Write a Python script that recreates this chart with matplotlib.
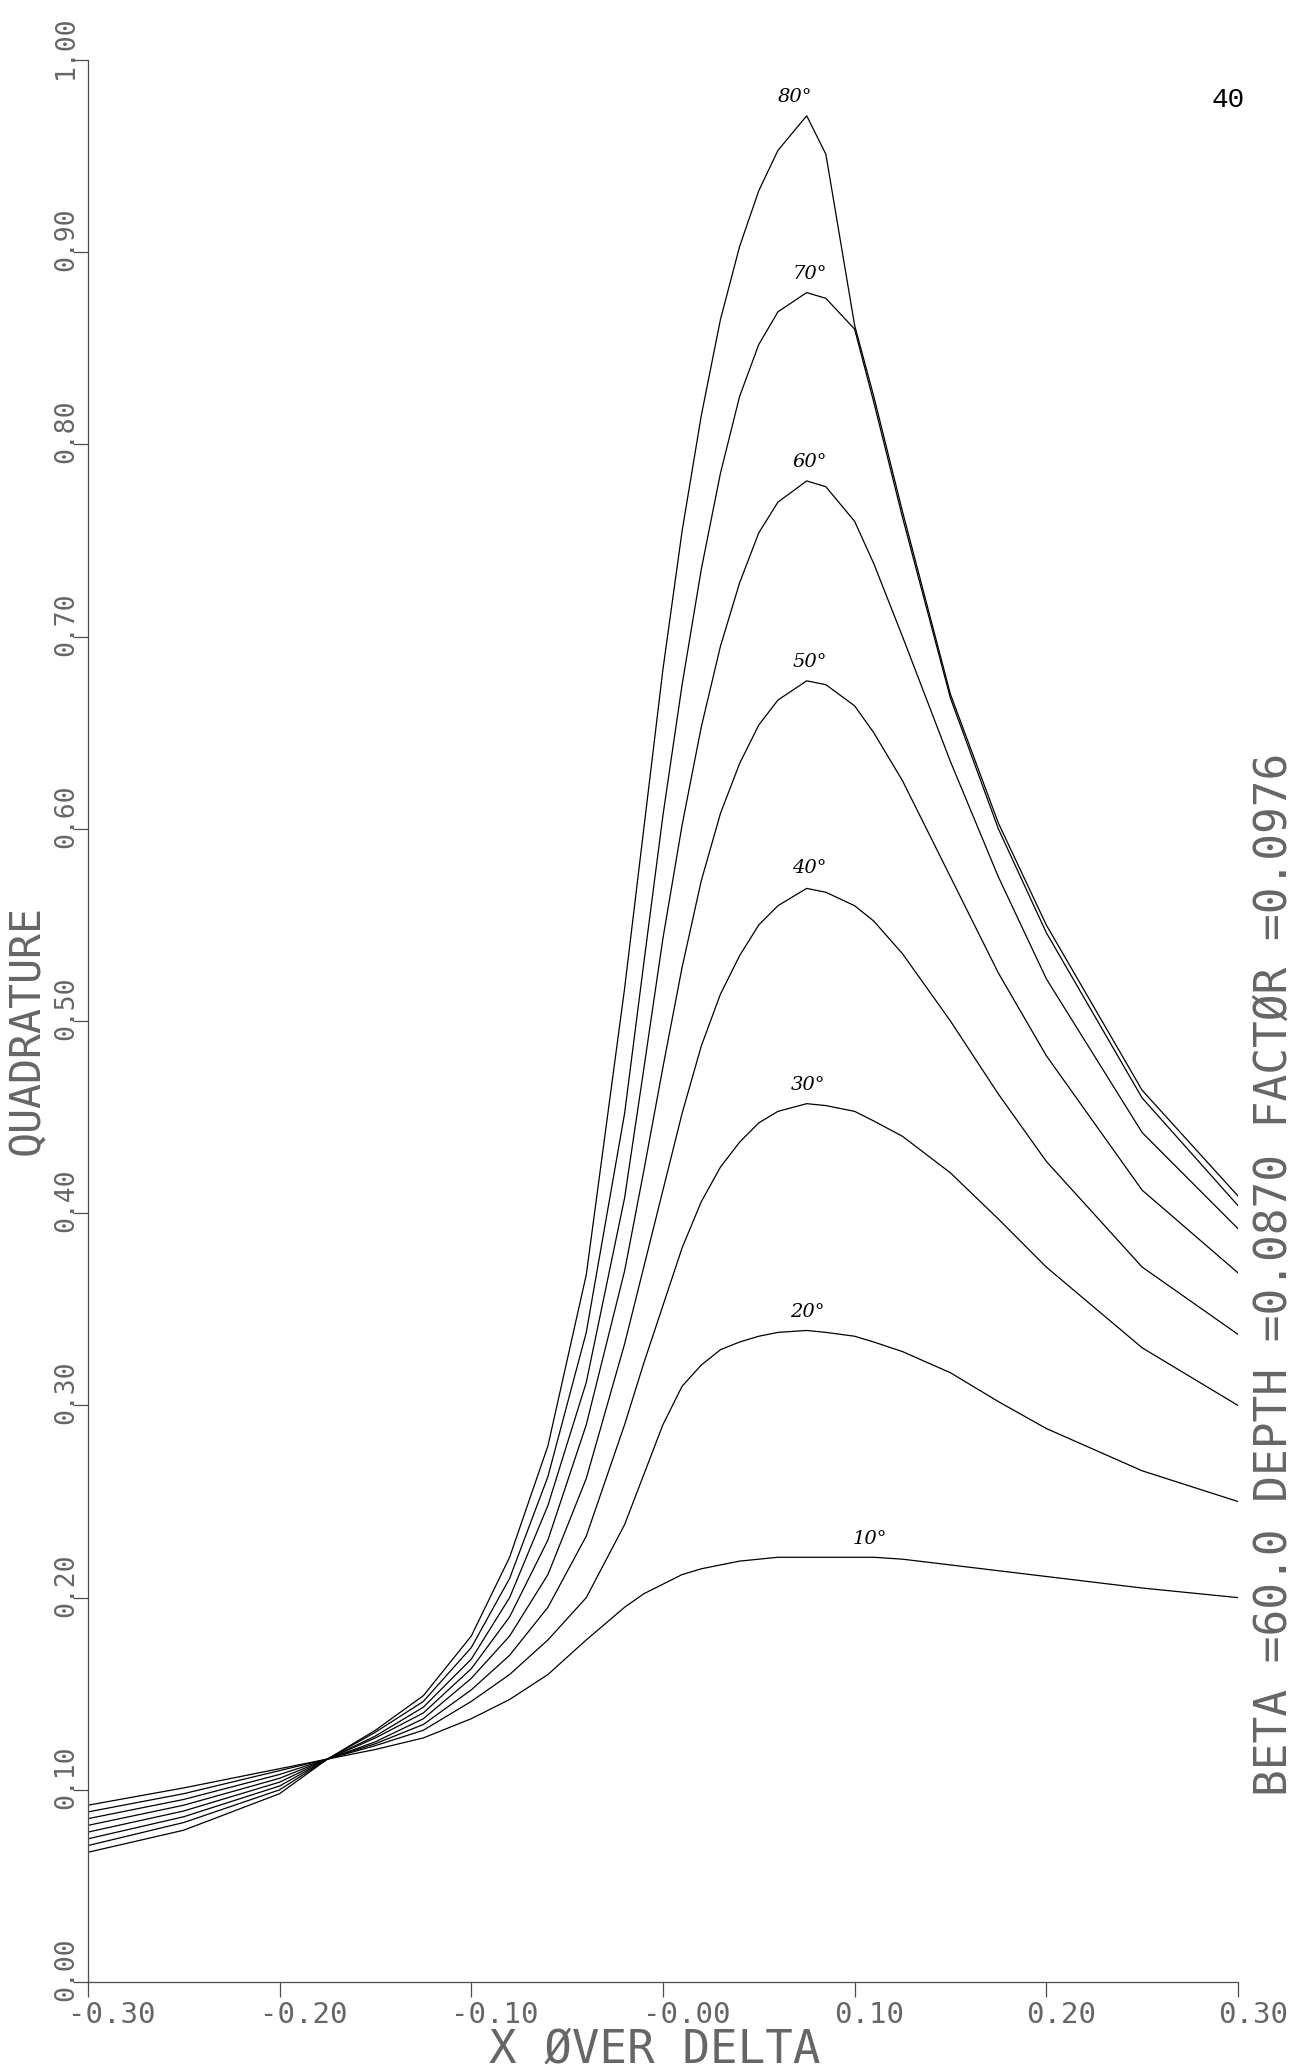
import numpy as np
import matplotlib
matplotlib.use("Agg")
import matplotlib.pyplot as plt
import matplotlib.transforms as mtransforms

# x over delta sample points
x_over_delta = [-0.30, -0.25, -0.20, -0.175, -0.15, -0.125, -0.10, -0.08, -0.06, -0.04, -0.02, -0.01,
                0.0, 0.01, 0.02, 0.03, 0.04, 0.05, 0.06, 0.075, 0.085, 0.10, 0.11, 0.125, 0.15,
                0.175, 0.20, 0.25, 0.30]

q10 = [0.092, 0.101, 0.111, 0.116, 0.121, 0.127, 0.137, 0.147, 0.160, 0.178, 0.195, 0.202,
       0.207, 0.212, 0.215, 0.217, 0.219, 0.220, 0.221, 0.221, 0.221, 0.221, 0.221, 0.220, 0.217,
       0.214, 0.211, 0.205, 0.200]
q20 = [0.0885, 0.098, 0.110, 0.116, 0.123, 0.131, 0.146, 0.160, 0.178, 0.200, 0.238, 0.264,
       0.290, 0.310, 0.321, 0.329, 0.333, 0.336, 0.338, 0.339, 0.338, 0.336, 0.333, 0.328, 0.317,
       0.302, 0.288, 0.266, 0.250]
q30 = [0.085, 0.095, 0.108, 0.116, 0.124, 0.134, 0.152, 0.170, 0.195, 0.232, 0.290, 0.322,
       0.352, 0.382, 0.406, 0.424, 0.437, 0.447, 0.453, 0.457, 0.456, 0.453, 0.448, 0.440, 0.421,
       0.397, 0.372, 0.330, 0.300]
q40 = [0.0815, 0.092, 0.106, 0.116, 0.125, 0.137, 0.158, 0.180, 0.212, 0.262, 0.332, 0.372,
       0.412, 0.452, 0.487, 0.514, 0.534, 0.550, 0.560, 0.569, 0.567, 0.560, 0.552, 0.535, 0.500,
       0.462, 0.427, 0.372, 0.337]
q50 = [0.078, 0.089, 0.104, 0.116, 0.127, 0.140, 0.163, 0.190, 0.230, 0.290, 0.370, 0.422,
       0.476, 0.528, 0.573, 0.608, 0.634, 0.654, 0.667, 0.677, 0.675, 0.664, 0.650, 0.625, 0.575,
       0.525, 0.482, 0.412, 0.369]
q60 = [0.0745, 0.086, 0.102, 0.116, 0.128, 0.143, 0.168, 0.200, 0.248, 0.312, 0.408, 0.475,
       0.543, 0.602, 0.653, 0.695, 0.728, 0.754, 0.770, 0.781, 0.778, 0.760, 0.738, 0.700, 0.635,
       0.575, 0.522, 0.442, 0.392]
q70 = [0.071, 0.083, 0.100, 0.116, 0.130, 0.146, 0.174, 0.210, 0.263, 0.338, 0.452, 0.530,
       0.607, 0.675, 0.735, 0.785, 0.825, 0.852, 0.869, 0.879, 0.876, 0.860, 0.822, 0.762, 0.668,
       0.600, 0.546, 0.460, 0.404]
q80 = [0.0675, 0.079, 0.098, 0.116, 0.131, 0.149, 0.180, 0.221, 0.279, 0.368, 0.517, 0.600,
       0.683, 0.755, 0.815, 0.865, 0.903, 0.932, 0.953, 0.971, 0.951, 0.862, 0.825, 0.765, 0.670,
       0.603, 0.550, 0.464, 0.409]

curves = [q10, q20, q30, q40, q50, q60, q70, q80]
angle_labels = ['10°', '20°', '30°', '40°', '50°', '60°', '70°', '80°']
label_x = [0.108, 0.0755, 0.0755, 0.0765, 0.0765, 0.0765, 0.0765, 0.069]
label_y = [0.226, 0.344, 0.462, 0.575, 0.682, 0.786, 0.884, 0.976]

x_ticks = [-0.30, -0.20, -0.10, 0.0, 0.10, 0.20, 0.30]
x_ticklabels = ['-0.30', '-0.20', '-0.10', '-0.00', '0.10', '0.20', '0.30']
y_ticks = [0.0, 0.1, 0.2, 0.3, 0.4, 0.5, 0.6, 0.7, 0.8, 0.9, 1.0]
y_ticklabels = ['0.00', '0.10', '0.20', '0.30', '0.40', '0.50', '0.60', '0.70', '0.80', '0.90', '1.00']

mono = 'DejaVu Sans Mono'
txt_col = '0.4'

fig = plt.figure(figsize=(12.99, 20.70), dpi=100)
ax = fig.add_axes([0.0677, 0.0425, 0.8853, 0.9285])

for q in curves:
    ax.plot(x_over_delta, q, color='black', lw=0.9)

for lab, lx, ly in zip(angle_labels, label_x, label_y):
    ax.text(lx, ly, lab, fontsize=14, style='italic', family='DejaVu Serif',
            ha='center', va='bottom')

ax.set_xlim(-0.30, 0.30)
ax.set_ylim(0.0, 1.0)
ax.spines['top'].set_visible(False)
ax.spines['right'].set_visible(False)
for s in ['left', 'bottom']:
    ax.spines[s].set_color('0.3')
    ax.spines[s].set_linewidth(0.9)

ax.set_xticks(x_ticks)
ax.set_yticks(y_ticks)
ax.tick_params(length=11, width=0.9, color='0.3', labelbottom=False, labelleft=False)

# plotter style tick labels: text starts ~20 px before the tick
dx = mtransforms.ScaledTranslation(-20 / 100, -19 / 100, fig.dpi_scale_trans)
tr_x = mtransforms.blended_transform_factory(ax.transData, ax.transAxes) + dx
for v, s in zip(x_ticks, x_ticklabels):
    ax.text(v, 0, s, transform=tr_x, ha='left', va='top', family=mono,
            fontsize=21, color=txt_col)

dy = mtransforms.ScaledTranslation(-9 / 100, -19 / 100, fig.dpi_scale_trans)
tr_y = mtransforms.blended_transform_factory(ax.transAxes, ax.transData) + dy
for v, s in zip(y_ticks, y_ticklabels):
    ax.text(0, v, s, transform=tr_y, ha='right', va='bottom', rotation=90,
            family=mono, fontsize=19, color=txt_col)

fig.text(655 / 1299, 1 - 2050 / 2070, 'X ØVER DELTA', ha='center', va='center',
         family=mono, fontsize=33, color=txt_col)
fig.text(27 / 1299, 1 - 1030 / 2070, 'QUADRATURE', ha='center', va='center',
         rotation=90, family=mono, fontsize=30, color=txt_col)
fig.text(1274 / 1299, 1 - 1274 / 2070, 'BETA =60.0 DEPTH =0.0870 FACTØR =0.0976',
         ha='center', va='center', rotation=90, family=mono, fontsize=32, color=txt_col)
fig.text(1228 / 1299, 1 - 100 / 2070, '40', ha='center', va='center',
         family='Liberation Mono', fontsize=20, color='black')

fig.savefig('out.png', dpi=100)
